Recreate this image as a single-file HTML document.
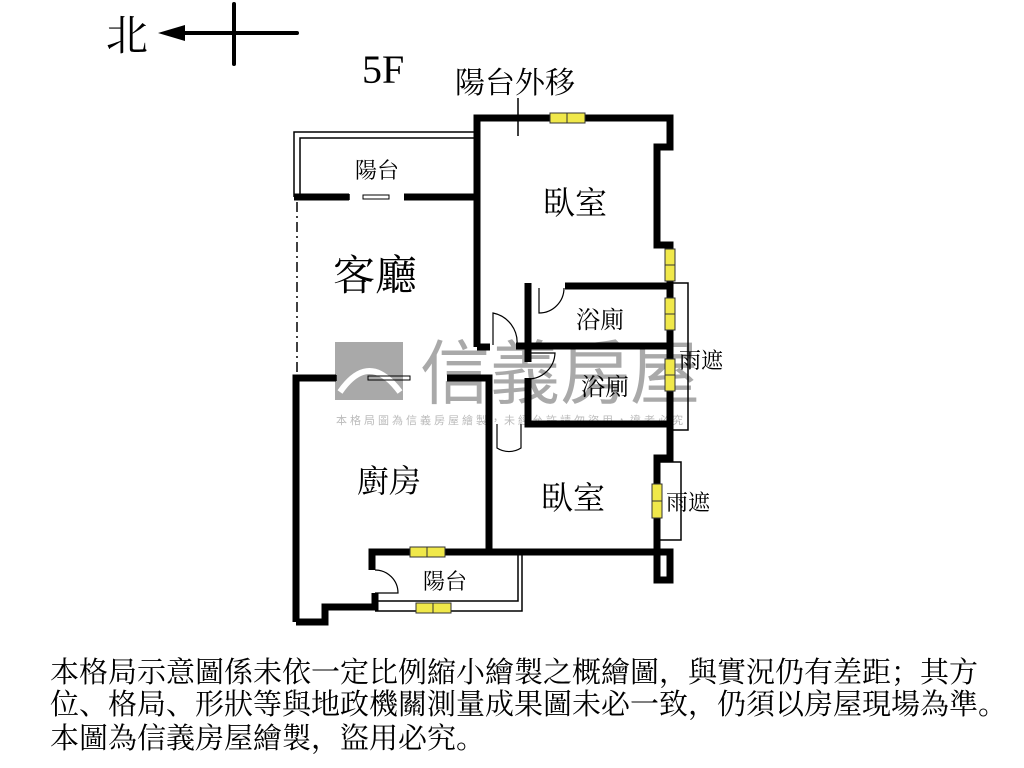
<!DOCTYPE html>
<html><head><meta charset="utf-8"><style>
html,body{margin:0;padding:0;background:#fff;width:1024px;height:768px;overflow:hidden}
svg{display:block}
.t{font-family:"Liberation Serif","Noto Serif CJK SC",serif;fill:#000}
.s{font-family:"Liberation Sans","Noto Sans CJK TC",sans-serif}
</style></head><body>
<svg width="1024" height="768" viewBox="0 0 1024 768">
<rect x="335" y="342" width="68" height="58" fill="#a9a9a9"/>
<path d="M340 392 Q369 350 400 392" stroke="#fff" stroke-width="6" fill="none"/>
<text x="420" y="398" class="s" font-size="70" fill="#a9a9a9">信義房屋</text>
<text x="336" y="424" class="s" font-size="11" fill="#bbb" letter-spacing="3">本格局圖為信義房屋繪製，未經允許請勿盜用，違者必究</text>

<text x="106" y="50" class="t" font-size="42">北</text>
<line x1="175" y1="33" x2="297" y2="33" stroke="#000" stroke-width="4" stroke-linecap="round"/>
<polygon points="158,33 185,25 185,41" fill="#000"/>
<line x1="234" y1="4" x2="234" y2="64" stroke="#000" stroke-width="4" stroke-linecap="round"/>
<text x="362" y="83" class="t" font-size="40">5F</text>
<text x="455" y="93" class="t" font-size="30">陽台外移</text>
<line x1="518" y1="98" x2="518" y2="136" stroke="#000" stroke-width="1.5"/>

<g fill="none" stroke="#000">
<polyline points="294,197 294,132 477,132" stroke-width="1.5"/>
<polyline points="300,197 300,138 477,138" stroke-width="1.5"/>
<line x1="297" y1="202" x2="297" y2="372" stroke-width="1.5" stroke-dasharray="10,4,2,4"/>
<g stroke-width="7">
<polyline points="294,197 349,197"/>
<polyline points="404,197 477,197"/>
<polyline points="477,347 477,118 670,118 670,147 657,147 657,245 670,245 670,458 657,458 657,552 372,552 372,570"/>
<polyline points="657,552 670,552 670,580 657,580 657,552"/>
<polyline points="565,286 670,286"/>
<polyline points="528,283 528,347"/>
<polyline points="477,347 490,347"/>
<polyline points="516,346 670,346"/>
<polyline points="528,346 528,362"/>
<polyline points="528,378 528,424 670,424"/>
<polyline points="296,622 296,378 336,378"/>
<polyline points="447,378 489,378 489,552"/>
<polyline points="296,622 325,622 325,607 375,607 375,593"/>
</g>
<polyline points="375,601 518,601 518,552" stroke-width="1.5"/>
<polyline points="375,611 522,611 522,552" stroke-width="1.5"/>
<rect x="672" y="283" width="16" height="147" stroke-width="1.5"/>
<rect x="659" y="462" width="22" height="78" stroke-width="1.5"/>
<polyline points="349,194 349,200 M349,197 404,197 M404,194 404,200" stroke-width="1.5"/>
<rect x="363" y="195" width="26" height="4" stroke-width="1"/>
<polyline points="336,375 336,381 M336,378 447,378" stroke-width="1.5"/>
<rect x="368" y="376" width="42" height="4" stroke-width="1"/>
<path d="M539 288 L539 313 A25 25 0 0 0 564 288" stroke-width="1.2"/>
<path d="M493 345 L493 313 A30 30 0 0 1 517 345" stroke-width="1.2"/>
<path d="M528 353 L555 353 A27 27 0 0 1 528 379" stroke-width="1.2"/>
<path d="M497 424 L497 448 A22 22 0 0 0 521 448 L521 424" stroke-width="1.2"/>
<path d="M375 570 A23 23 0 0 1 398 593 L375 593" stroke-width="1.2"/>
</g>
<g fill="#f0e84a" stroke="#333" stroke-width="1">
<rect x="550" y="113" width="35" height="10"/><line x1="567" y1="113" x2="567" y2="123"/>
<rect x="665" y="249" width="10" height="32"/><line x1="665" y1="265" x2="675" y2="265"/>
<rect x="665" y="298" width="10" height="32"/><line x1="665" y1="314" x2="675" y2="314"/>
<rect x="665" y="359" width="10" height="32"/><line x1="665" y1="375" x2="675" y2="375"/>
<rect x="652" y="484" width="10" height="34"/><line x1="652" y1="501" x2="662" y2="501"/>
<rect x="410" y="547" width="35" height="10"/><line x1="427" y1="547" x2="427" y2="557"/>
<rect x="416" y="603" width="35" height="10"/><line x1="433" y1="603" x2="433" y2="613"/>
</g>
<text x="355" y="178" class="t" font-size="22">陽台</text>
<text x="543" y="214" class="t" font-size="32">臥室</text>
<text x="333" y="290" class="t" font-size="42">客廳</text>
<text x="576" y="328" class="t" font-size="24">浴廁</text>
<text x="581" y="395" class="t" font-size="24">浴廁</text>
<text x="679" y="368" class="t" font-size="22">雨遮</text>
<text x="666" y="510" class="t" font-size="22">雨遮</text>
<text x="357" y="492" class="t" font-size="32">廚房</text>
<text x="541" y="509" class="t" font-size="32">臥室</text>
<text x="423" y="589" class="t" font-size="22">陽台</text>
<text x="50" y="682" class="t" font-size="29">本格局示意圖係未依一定比例縮小繪製之概繪圖，與實況仍有差距；其方</text>
<text x="50" y="714" class="t" font-size="29">位、格局、形狀等與地政機關測量成果圖未必一致，仍須以房屋現場為準。</text>
<text x="50" y="748" class="t" font-size="29">本圖為信義房屋繪製，盜用必究。</text>
</svg>
</body></html>
